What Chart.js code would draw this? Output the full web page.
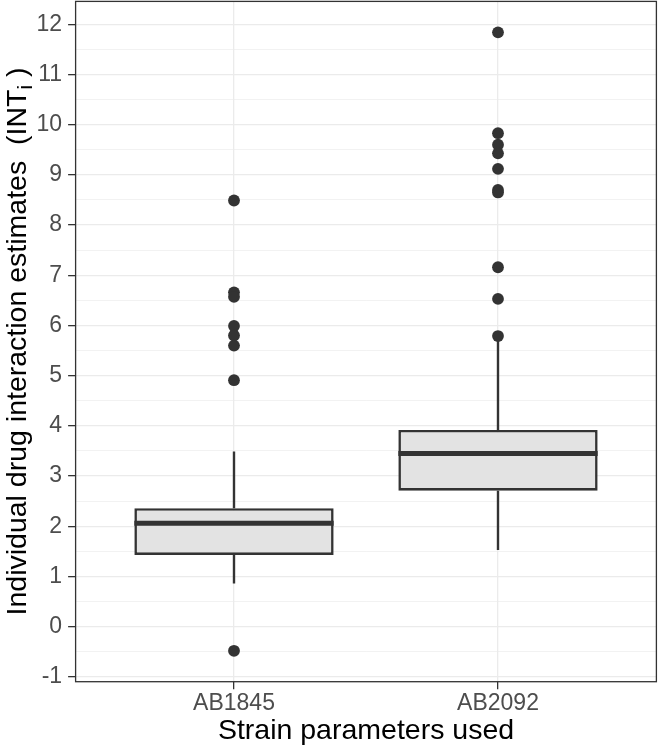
<!DOCTYPE html>
<html>
<head>
<meta charset="utf-8">
<script src="https://cdn.jsdelivr.net/npm/chart.js@4.4.1/dist/chart.umd.min.js"></script>
<style>
html,body{margin:0;padding:0;background:#ffffff;}
#wrap{width:659px;height:750px;}
</style>
</head>
<body>
<div id="wrap"><canvas id="c" width="659" height="750"></canvas></div>
<script>
// ---- data ----
const categories = ['AB1845', 'AB2092'];
const q1 = [1.43, 2.71];
const median = [2.06, 3.45];
const q3 = [2.36, 3.92];
const whiskerLow = [0.86, 1.53];
const whiskerHigh = [3.49, 5.72];
const outliersAB1845 = [8.49, 6.66, 6.57, 5.99, 5.80, 5.60, 4.91, -0.48];
const outliersAB2092 = [11.84, 9.83, 9.60, 9.43, 9.12, 8.70, 8.65, 7.16, 6.53, 5.79];
const yTickValues = [-1, 0, 1, 2, 3, 4, 5, 6, 7, 8, 9, 10, 11, 12];
const xTitle = 'Strain parameters used';
const yTitleMain = 'Individual drug interaction estimates  (INT';
const yTitleSub = 'i';
const yTitleEnd = ' )';

// ---- styling ----
const FONT = '"Liberation Sans", Arial, Helvetica, sans-serif';
const DARK = '#333333';
const GRID = '#ebebeb';
const BOX_FILL = '#e3e3e3';
const BOX_WIDTH = 0.755; // fraction of category spacing
const Y_MIN = -1.096, Y_MAX = 12.456;

const outlierSets = [outliersAB1845, outliersAB2092];

const boxData = categories.map((c, i) => ({ x: i + 1, y: [q1[i], q3[i]] }));
const whiskerData = [];
categories.forEach((c, i) => {
  whiskerData.push({ x: i + 1, y: q3[i] }, { x: i + 1, y: whiskerHigh[i] }, { x: i + 1, y: null });
  whiskerData.push({ x: i + 1, y: q1[i] }, { x: i + 1, y: whiskerLow[i] }, { x: i + 1, y: null });
});
const medianData = [];
categories.forEach((c, i) => {
  medianData.push({ x: i + 1 - BOX_WIDTH / 2, y: median[i] }, { x: i + 1 + BOX_WIDTH / 2, y: median[i] }, { x: i + 1, y: null });
});
const outlierData = [];
outlierSets.forEach((arr, i) => arr.forEach(v => outlierData.push({ x: i + 1, y: v })));

// half-step grid values (integers are major, halves minor)
const yGridValues = [];
yTickValues.forEach((v, k) => {
  yGridValues.push(v);
  if (k < yTickValues.length - 1) yGridValues.push(v + 0.5);
});

const isMajor = v => Math.abs(v - Math.round(v)) < 1e-6;

const panelBorder = {
  id: 'panelBorder',
  afterDatasetsDraw(chart) {
    const { ctx, chartArea: a } = chart;
    ctx.save();
    ctx.strokeStyle = DARK;
    ctx.lineWidth = 1.3;
    ctx.strokeRect(a.left, a.top, a.right - a.left, a.bottom - a.top);
    ctx.restore();
  }
};

const yTitlePlugin = {
  id: 'yTitle',
  afterDraw(chart) {
    const { ctx, chartArea: a } = chart;
    const size = 28.5;
    const subSize = size * 0.72;
    ctx.save();
    ctx.fillStyle = '#000000';
    ctx.textBaseline = 'alphabetic';
    ctx.textAlign = 'left';
    ctx.font = size + 'px ' + FONT;
    const w1 = ctx.measureText(yTitleMain).width;
    const w3 = ctx.measureText(yTitleEnd).width;
    ctx.font = subSize + 'px ' + FONT;
    const w2 = ctx.measureText(yTitleSub).width;
    const total = w1 + w2 + w3;
    const cy = (a.top + a.bottom) / 2;
    ctx.translate(26, cy);
    ctx.rotate(-Math.PI / 2);
    let x = -total / 2;
    ctx.font = size + 'px ' + FONT;
    ctx.fillText(yTitleMain, x, 0);
    x += w1;
    ctx.font = subSize + 'px ' + FONT;
    ctx.fillText(yTitleSub, x, size * 0.22);
    x += w2;
    ctx.font = size + 'px ' + FONT;
    ctx.fillText(yTitleEnd, x, 0);
    ctx.restore();
  }
};

Chart.defaults.font.family = FONT;

new Chart(document.getElementById('c'), {
  type: 'bar',
  data: {
    datasets: [
      {
        type: 'line',
        label: 'whiskers',
        data: whiskerData,
        borderColor: DARK,
        borderWidth: 2.4,
        pointRadius: 0,
        spanGaps: false,
        fill: false,
        order: 3
      },
      {
        type: 'bar',
        label: 'box',
        data: boxData,
        backgroundColor: BOX_FILL,
        borderColor: DARK,
        borderWidth: 2.6,
        borderSkipped: false,
        barPercentage: BOX_WIDTH,
        categoryPercentage: 1,
        order: 2
      },
      {
        type: 'line',
        label: 'median',
        data: medianData,
        borderColor: DARK,
        borderWidth: 5,
        pointRadius: 0,
        spanGaps: false,
        fill: false,
        order: 1
      },
      {
        type: 'scatter',
        label: 'outliers',
        data: outlierData,
        backgroundColor: DARK,
        borderColor: DARK,
        borderWidth: 0,
        pointRadius: 5.9,
        showLine: false,
        order: 0
      }
    ]
  },
  options: {
    responsive: false,
    animation: false,
    devicePixelRatio: 1,
    layout: { autoPadding: false, padding: { top: 1.4, right: 2.6, bottom: 0, left: 0 } },
    plugins: {
      legend: { display: false },
      tooltip: { enabled: false },
      title: { display: false }
    },
    scales: {
      x: {
        type: 'linear',
        min: 0.4,
        max: 2.6,
        offset: false,
        afterBuildTicks(scale) {
          scale.ticks = categories.map((c, i) => ({ value: i + 1 }));
        },
        afterFit(scale) {
          scale.height = 68.3;
          scale.paddingLeft = 0;
          scale.paddingRight = 0;
        },
        ticks: {
          autoSkip: false,
          maxRotation: 0,
          padding: 1,
          color: '#4d4d4d',
          font: { size: 23 },
          callback: v => categories[Math.round(v) - 1]
        },
        grid: {
          offset: false,
          color: GRID,
          lineWidth: 1.3,
          drawTicks: true,
          tickLength: 7.5,
          tickColor: DARK,
          tickWidth: 1.3
        },
        border: { display: false },
        title: {
          display: true,
          text: xTitle,
          color: '#000000',
          font: { size: 28.5 },
          padding: { top: 0, bottom: 1.5 }
        }
      },
      y: {
        type: 'linear',
        min: Y_MIN,
        max: Y_MAX,
        afterBuildTicks(scale) {
          scale.ticks = yGridValues.map(v => ({ value: v }));
        },
        afterFit(scale) {
          scale.width = 75.6;
          scale.paddingTop = 0;
          scale.paddingBottom = 0;
        },
        ticks: {
          autoSkip: false,
          padding: 6,
          color: '#4d4d4d',
          font: { size: 23 },
          callback: v => (isMajor(v) ? String(Math.round(v)) : '')
        },
        grid: {
          color: GRID,
          lineWidth: ctx => (ctx.tick && isMajor(ctx.tick.value) ? 1.3 : 0.65),
          drawTicks: true,
          tickLength: 7.5,
          tickColor: ctx => (ctx.tick && isMajor(ctx.tick.value) ? DARK : 'rgba(0,0,0,0)'),
          tickWidth: 1.3
        },
        border: { display: false }
      }
    }
  },
  plugins: [panelBorder, yTitlePlugin]
});
</script>
</body>
</html>
